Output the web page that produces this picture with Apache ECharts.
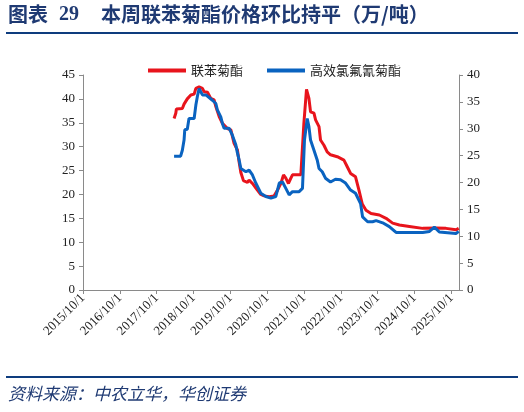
<!DOCTYPE html>
<html>
<head>
<meta charset="utf-8">
<script src="https://cdn.jsdelivr.net/npm/echarts@6/dist/echarts.min.js"></script>
<style>
html,body{margin:0;padding:0;background:#fff;}
#c{width:524px;height:412px;}
</style>
</head>
<body>
<div id="c"></div>
<script>
// ---- data ----
var seriesNames = ['联苯菊酯', '高效氯氟氰菊酯'];
var xTickLabels = ['2015/10/1','2016/10/1','2017/10/1','2018/10/1','2019/10/1','2020/10/1','2021/10/1','2022/10/1','2023/10/1','2024/10/1','2025/10/1'];
var axisStartDate = '2015-10-01';
var axisEndDate = '2025-12-15';

var bifenthrinDates = ['2018-03-22','2018-04-08','2018-04-14','2018-06-12','2018-06-29','2018-07-31','2018-09-04','2018-10-07','2018-10-24','2018-11-25','2018-12-28','2019-01-14','2019-02-16','2019-03-21','2019-04-23','2019-05-10','2019-06-12','2019-07-14','2019-09-02','2019-10-06','2019-11-07','2019-12-10','2019-12-27','2020-01-13','2020-02-08','2020-03-19','2020-04-04','2020-05-07','2020-06-25','2020-07-29','2020-08-31','2020-10-20','2020-12-08','2021-01-11','2021-02-13','2021-03-11','2021-04-03','2021-04-29','2021-05-23','2021-06-08','2021-08-30','2021-09-15','2021-09-29','2021-10-25','2021-11-18','2021-12-04','2022-01-07','2022-01-23','2022-02-26','2022-03-13','2022-04-16','2022-05-18','2022-06-20','2022-08-26','2022-10-31','2022-12-03','2023-01-05','2023-02-23','2023-03-29','2023-05-01','2023-06-07','2023-07-27','2023-10-17','2023-12-23','2024-02-26','2024-05-03','2024-08-10','2024-12-20','2025-05-02','2025-08-08','2025-11-15','2025-12-12'];
var bifenthrinValues = [35.9,37.0,37.9,38.0,38.9,40.0,40.8,41.0,42.2,42.5,42.2,41.5,41.4,40.1,39.8,38.4,36.3,34.9,33.8,33.5,30.7,29.3,26.8,24.6,22.9,22.5,23.0,22.3,20.9,20.0,19.7,19.5,19.7,20.9,22.3,24.1,23.4,22.3,23.4,24.1,24.1,24.3,34.9,42.0,40.1,37.3,37.0,35.6,34.2,31.4,30.3,28.9,28.3,27.9,27.2,25.8,24.4,23.7,20.9,18.0,16.7,16.0,15.7,15.0,14.0,13.6,13.3,12.9,13.0,12.9,12.6,12.9];

var lambdaDates = ['2018-03-22','2018-05-26','2018-06-12','2018-06-29','2018-07-06','2018-07-31','2018-08-17','2018-10-07','2018-10-24','2018-11-08','2018-11-25','2018-12-12','2018-12-28','2019-01-31','2019-02-16','2019-04-06','2019-05-10','2019-05-25','2019-06-28','2019-07-14','2019-07-31','2019-09-18','2019-10-21','2019-11-24','2019-12-10','2019-12-27','2020-01-13','2020-03-03','2020-04-04','2020-05-07','2020-06-09','2020-07-29','2020-09-17','2020-11-06','2020-12-25','2021-01-28','2021-03-01','2021-04-03','2021-05-06','2021-06-08','2021-08-13','2021-09-15','2021-09-22','2021-10-05','2021-11-01','2021-11-18','2021-12-04','2022-01-07','2022-02-08','2022-02-26','2022-03-30','2022-05-01','2022-06-20','2022-08-08','2022-09-27','2022-11-16','2023-01-05','2023-02-23','2023-04-14','2023-05-04','2023-06-23','2023-08-11','2023-09-15','2023-11-19','2024-01-24','2024-03-31','2024-08-10','2024-12-20','2025-02-25','2025-04-15','2025-06-03','2025-11-15','2025-12-12'];
var lambdaValues = [24.9,24.9,26.0,27.9,29.8,29.9,31.9,31.9,34.4,36.0,37.5,37.5,36.3,36.3,36.0,35.3,34.7,33.5,32.2,31.0,30.1,30.1,28.8,27.0,25.5,24.2,22.6,22.0,22.3,21.4,19.9,18.0,17.4,17.1,17.4,19.9,20.1,18.9,17.7,18.3,18.3,18.9,19.2,27.9,31.9,30.4,27.9,26.0,24.2,22.6,22.0,20.8,20.1,20.6,20.5,19.9,18.6,18.0,16.1,13.6,12.7,12.7,12.9,12.5,11.8,10.7,10.7,10.7,10.9,11.7,10.8,10.5,10.9];

// ---- helpers ----
var YEAR_MS = 365.25 * 86400000;
function ms(s){ var p = s.split('-'); return Date.UTC(+p[0], +p[1]-1, +p[2]); }
var t0 = ms(axisStartDate);
function yearsFromStart(s){ return (ms(s) - t0) / YEAR_MS; }
function pairs(dates, vals){ return dates.map(function(d,i){ return [yearsFromStart(d), vals[i]]; }); }
var tickPos = xTickLabels.map(function(_, i){ return i; });

var navy = '#1F3A73';
var serif = '"Liberation Serif","DejaVu Serif",serif';
var cjk = '"Noto Sans CJK SC","Noto Sans",sans-serif';

var chart = echarts.init(document.getElementById('c'), null, {renderer:'canvas'});
chart.setOption({
  animation: false,
  backgroundColor: '#fff',
  graphic: [
    {type:'text', left:8, top:4, style:{text:'图表', font:'bold 20px ' + cjk, fill:navy}},
    {type:'text', left:59, top:5, style:{text:'29', font:'bold 20px ' + serif, fill:navy}},
    {type:'text', left:101, top:4, style:{text:'本周联苯菊酯价格环比持平（万/吨）', font:'bold 20px ' + cjk, fill:navy}},
    {type:'rect', shape:{x:6, y:32, width:512, height:2}, style:{fill:'#0E3C7E'}},
    {type:'rect', shape:{x:6, y:376, width:512, height:2}, style:{fill:'#0E3C7E'}},
    {type:'text', left:8, top:385, style:{text:'资料来源：中农立华，华创证券', font:'italic 17px ' + cjk, fill:navy}}
  ],
  legend: {
    top: 59, left: 143,
    itemWidth: 38, itemHeight: 4, itemGap: 24,
    icon: 'rect',
    textStyle: {fontFamily: cjk, fontSize: 13, color:'#222', padding:[0,0,0,0]},
    data: seriesNames
  },
  grid: {left: 83, right: 65, top: 75, bottom: 122, containLabel: false},
  xAxis: {
    type: 'value',
    min: 0,
    max: yearsFromStart(axisEndDate),
    interval: 1,
    splitLine: {show:false},
    axisLine: {lineStyle:{color:'#8a8a8a', width:1}},
    axisTick: {show:true, length:4, lineStyle:{color:'#8a8a8a'}, customValues: tickPos},
    axisLabel: {
      rotate: 45, margin: 6, fontFamily: serif, fontSize: 13, color:'#222',
      customValues: tickPos,
      formatter: function(v){ var i = Math.round(v); return Math.abs(v - i) < 1e-6 && xTickLabels[i] ? xTickLabels[i] : ''; }
    }
  },
  yAxis: [
    {type:'value', min:0, max:45, interval:5, position:'left',
     splitLine:{show:false},
     axisLine:{show:true, lineStyle:{color:'#8a8a8a'}},
     axisTick:{show:true, length:4, lineStyle:{color:'#8a8a8a'}},
     axisLabel:{fontFamily: serif, fontSize:13, color:'#222', margin:8}},
    {type:'value', min:0, max:40, interval:5, position:'right',
     splitLine:{show:false},
     axisLine:{show:true, lineStyle:{color:'#8a8a8a'}},
     axisTick:{show:true, length:4, lineStyle:{color:'#8a8a8a'}},
     axisLabel:{fontFamily: serif, fontSize:13, color:'#222', margin:8}}
  ],
  series: [
    {name: seriesNames[0], type:'line', yAxisIndex:0, data: pairs(bifenthrinDates, bifenthrinValues),
     showSymbol:false, symbol:'none', lineStyle:{color:'#E8141C', width:3}, itemStyle:{color:'#E8141C'}},
    {name: seriesNames[1], type:'line', yAxisIndex:1, data: pairs(lambdaDates, lambdaValues),
     showSymbol:false, symbol:'none', lineStyle:{color:'#0A63C0', width:3}, itemStyle:{color:'#0A63C0'}}
  ]
});
</script>
</body>
</html>
